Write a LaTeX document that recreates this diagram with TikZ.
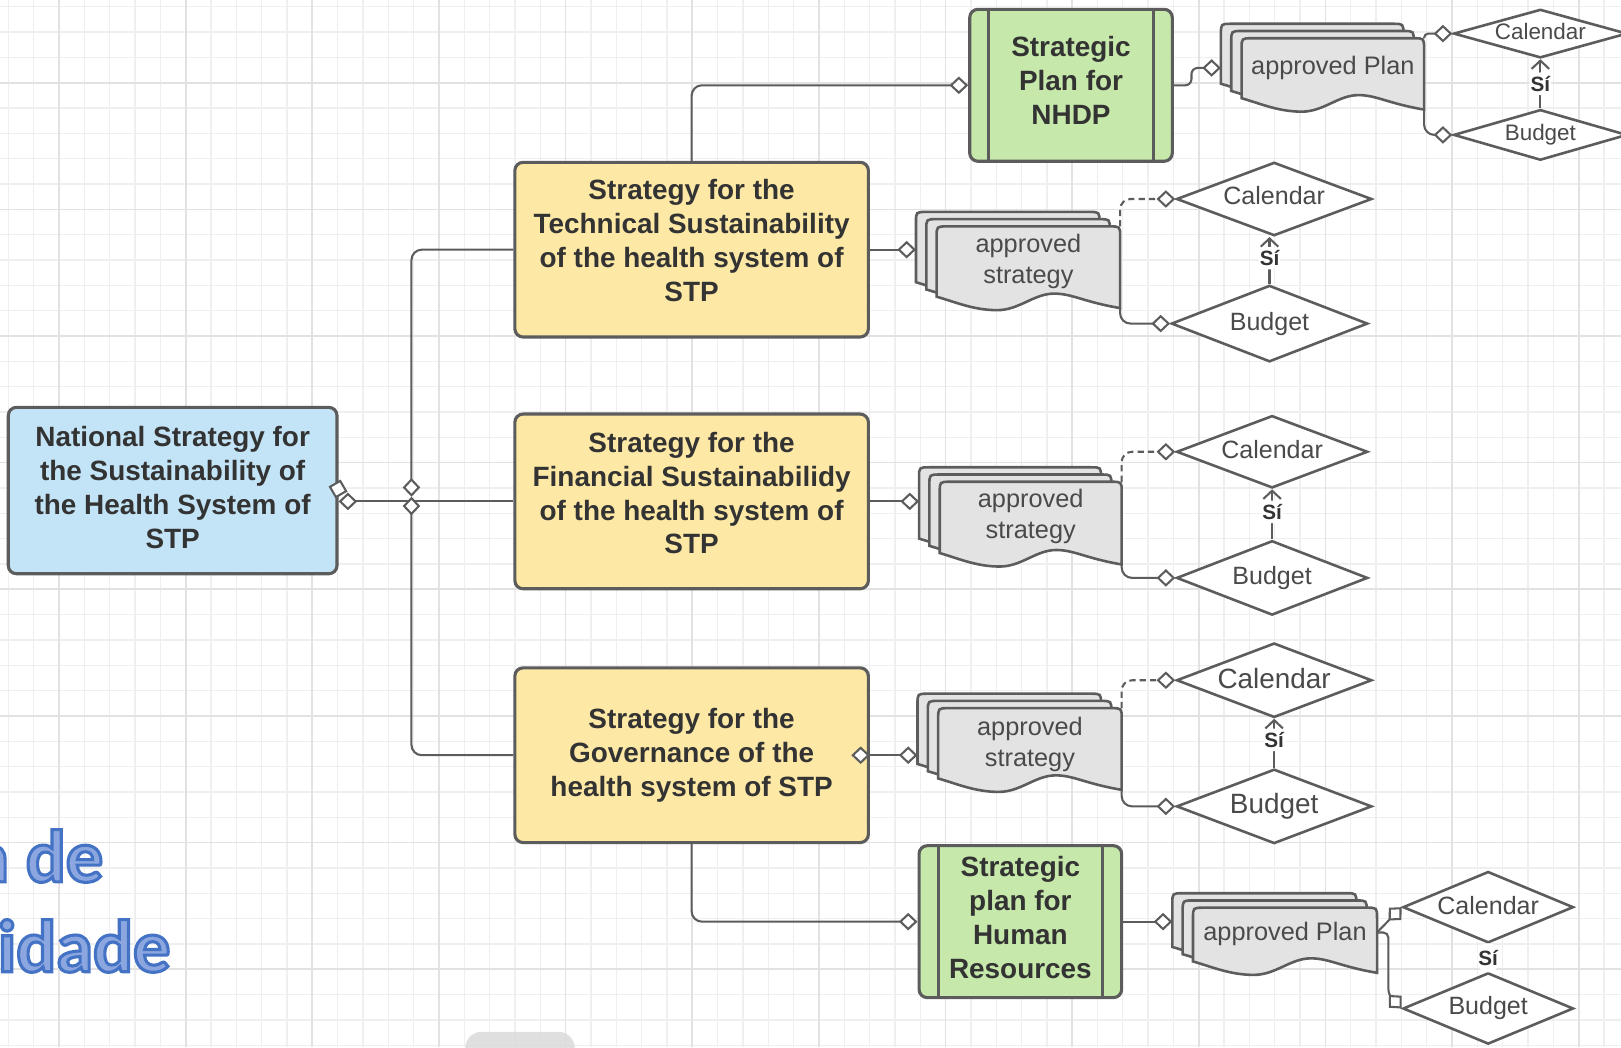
\documentclass[tikz,border=0pt]{standalone}
\usepackage{fontspec}
\setmainfont{Liberation Sans}
\newfontfamily\wafont{Carlito}
\usetikzlibrary{shapes.geometric,arrows.meta}
\definecolor{gridmin}{HTML}{EFEFEF}
\definecolor{gridmaj}{HTML}{E2E2E2}
\definecolor{edge}{HTML}{5C5C5C}
\definecolor{txt}{HTML}{333333}
\definecolor{txtl}{HTML}{4A4A4A}
\definecolor{bluefill}{HTML}{C3E4F6}
\definecolor{yelfill}{HTML}{FDE9A5}
\definecolor{grnfill}{HTML}{C6E8AA}
\definecolor{docfill}{HTML}{E3E3E3}
\definecolor{walight}{HTML}{8CA7E0}
\definecolor{blobgray}{HTML}{DADADA}
\newcommand\waoutline{\special{pdf:literal direct 0.267 0.447 0.769 RG 3 w 2 Tr}}
\newcommand\waplain{\special{pdf:literal direct 0 Tr}}
\tikzset{
  gridminor/.style={draw=gridmin, line width=1.3pt},
  gridmajor/.style={draw=gridmaj, line width=1.6pt},
  basebox/.style={draw=edge, line width=3pt, rounded corners=8pt, inner sep=0pt},
  boxtext/.style={text=txt, font=\bfseries\fontsize{27}{32.7}\selectfont, align=center, inner sep=0pt},
  bluebox/.style={basebox, fill=bluefill, minimum width=318pt, minimum height=161pt},
  yelbox/.style={basebox, fill=yelfill, minimum width=342pt, minimum height=169pt},
  grnbox/.style={basebox, fill=grnfill, minimum width=196pt, minimum height=147pt},
  choice/.style={shape=diamond, draw=edge, line width=2.5pt, fill=white, inner sep=0pt, text=txtl},
  conn/.style={draw=edge, line width=2pt, rounded corners=10pt},
  docst/.style={draw=edge, line width=2.5pt, fill=docfill},
  doctext/.style={text=txtl, font=\fontsize{24.5}{30}\selectfont, align=center, inner sep=0pt},
  silabel/.style={fill=white, text=txt, font=\bfseries\fontsize{20}{22}\selectfont, inner xsep=1pt, inner ysep=3.5pt},
  dmark/.style={shape=diamond, draw=edge, line width=2pt, fill=white, minimum width=17pt, minimum height=17pt, inner sep=0pt, aspect=1},
  wa/.style={text=walight, font=\wafont\bfseries\fontsize{72}{80}\selectfont, inner sep=0pt},
  dtip/.tip={Diamond[fill=white,length=18pt,width=17pt]},
  ctip/.tip={Straight Barb[length=8pt,width=17pt]},
}
% #1 name, #2 x, #3 y (front top-left), #4 width, #5 right height, #6 text dy, #7 text
\newcommand\docstack[7]{%
  \foreach \o in {20,10,0}{%
    \draw[docst, shift={({#2-\o},{#3-0.7*\o})}]
      (0,{#5-11}) -- (0,10) .. controls (0,0) .. (10,0) -- ({#4-10},0)
      .. controls (#4,0) .. (#4,10) -- (#4,#5)
      .. controls ({0.80*#4},{#5-6}) and ({0.74*#4},{#5-14}) .. ({0.64*#4},{#5-14})
      .. controls ({0.53*#4},{#5-14}) and ({0.45*#4},{#5+2}) .. ({0.33*#4},{#5+2})
      .. controls ({0.2*#4},{#5+2}) and ({0.1*#4},{#5-6}) .. (0,{#5-11}) -- cycle;
  }
  \node[inner sep=0pt, anchor=north west, minimum width={#4+20}, minimum height={#5+16}] (#1) at ({#2-20},{#3-14}) {};
  \coordinate (#1-tr) at ({#2+#4},#3);
  \coordinate (#1-br) at ({#2+#4},{#3+#5});
  \node[doctext] (#1-t) at ({#2+#4/2},{#3+#6}) {#7};
}
\begin{document}
\begin{tikzpicture}[x=1pt,y=-1pt]
\useasboundingbox (0,0) rectangle (1568,1013);
\clip (0,0) rectangle (1568,1013);
\fill[white] (0,0) rectangle (1568,1013);
% grid
\foreach \i in {0,...,63} {\draw[gridminor] ({8.1+24.5*\i},0) -- ++(0,1013);}
\foreach \i in {0,...,41} {\draw[gridminor] (0,{6.5+24.5*\i}) -- ++(1568,0);}
\foreach \i in {0,...,12} {\draw[gridmajor] ({57.1+122.5*\i},0) -- ++(0,1013);}
\foreach \i in {0,...,7} {\draw[gridmajor] (0,{80+122.5*\i}) -- ++(1568,0);}
% word art
\node[wa, anchor=base east] (wa1) at (100,853) {\waoutline a de\waplain};
\node[wa, anchor=base east] (wa2) at (165,940) {\waoutline idade\waplain};
% grey blob
\fill[blobgray, opacity=0.85, rounded corners=16pt] (450,998) rectangle (556,1045);

% main boxes
\node[bluebox] (bb) at (167,474.5) {};
\node[boxtext] (bbt) at ([yshift=3pt]bb.center) {National Strategy for\\the Sustainability of\\the Health System of\\STP};
\node[yelbox] (y1) at (669,241.5) {};
\node[boxtext] (y1t) at ([yshift=9pt]y1.center) {Strategy for the\\Technical Sustainability\\of the health system of\\STP};
\node[yelbox] (y2) at (669,485) {};
\node[boxtext] (y2t) at ([yshift=8pt]y2.center) {Strategy for the\\Financial Sustainabilidy\\of the health system of\\STP};
\node[yelbox] (y3) at (669,730.5) {};
\node[boxtext] (y3t) at ([yshift=0pt]y3.center) {Strategy for the\\Governance of the\\health system of STP};
\node[grnbox] (g1) at (1036,82.5) {};
\node[boxtext] (g1t) at ([yshift=5pt]g1.center) {Strategic\\Plan for\\NHDP};
\node[grnbox] (g2) at (987,891.5) {};
\node[boxtext] (g2t) at ([yshift=4pt]g2.center) {Strategic\\plan for\\Human\\Resources};
\draw[edge, line width=3pt] ([xshift=20pt]g1.north west) -- ([xshift=20pt]g1.south west);
\draw[edge, line width=3pt] ([xshift=-20pt]g1.north east) -- ([xshift=-20pt]g1.south east);
\draw[edge, line width=3pt] ([xshift=20pt]g2.north west) -- ([xshift=20pt]g2.south west);
\draw[edge, line width=3pt] ([xshift=-20pt]g2.north east) -- ([xshift=-20pt]g2.south east);

% document stacks
\docstack{st1}{906}{219}{177.5}{79}{34}{approved\\strategy}
\docstack{st2}{909}{466}{176}{80}{34}{approved\\strategy}
\docstack{st3}{907.5}{685}{177.5}{79}{35}{approved\\strategy}
\docstack{stTR}{1201}{37}{176.5}{69}{29}{approved Plan}
\docstack{stHR}{1154}{878}{178}{63}{25}{approved Plan}

% decision diamonds
\node[choice, minimum width=189pt, minimum height=71pt, aspect=2.66, text depth=7pt, font=\fontsize{24.2}{26}\selectfont] (cal1) at (1232.5,192.5) {Calendar};
\node[choice, minimum width=190pt, minimum height=74pt, aspect=2.57, font=\fontsize{24.2}{26}\selectfont] (bud1) at (1228,313) {Budget};
\node[choice, minimum width=185pt, minimum height=70pt, aspect=2.64, text depth=5pt, font=\fontsize{24.2}{26}\selectfont] (cal2) at (1230.5,437) {Calendar};
\node[choice, minimum width=185pt, minimum height=72pt, aspect=2.57, font=\fontsize{24.2}{26}\selectfont] (bud2) at (1230.5,559) {Budget};
\node[choice, minimum width=189pt, minimum height=72pt, aspect=2.63, text depth=4pt, font=\fontsize{27}{29}\selectfont] (cal3) at (1232.5,658) {Calendar};
\node[choice, minimum width=189pt, minimum height=72pt, aspect=2.63, font=\fontsize{27}{29}\selectfont] (bud3) at (1232.5,780) {Budget};
\node[choice, minimum width=168pt, minimum height=47pt, aspect=3.57, text depth=4pt, font=\fontsize{21.7}{23}\selectfont] (calTR) at (1490,32.5) {Calendar};
\node[choice, minimum width=168pt, minimum height=49pt, aspect=3.43, font=\fontsize{21.7}{23}\selectfont] (budTR) at (1490,130.5) {Budget};
\node[choice, minimum width=165pt, minimum height=69pt, aspect=2.39, text depth=3pt, font=\fontsize{24.2}{26}\selectfont] (calHR) at (1439.5,877.5) {Calendar};
\node[choice, minimum width=165pt, minimum height=69pt, aspect=2.39, font=\fontsize{24.2}{26}\selectfont] (budHR) at (1439.5,975.5) {Budget};

% connectors from the national strategy
\coordinate (hub) at (398,480.5);
\draw[conn,-dtip] (y2.west) -- (y2.west -| bb.east);
\draw[conn,-dtip] (y1.west) -| (hub);
\draw[conn,-dtip] (y3.west) -| (hub);
\node[dmark, rotate=-15] (bd) at (327,473) {};

% strategies to plans and stacks
\draw[conn,-dtip] (y1.north) |- (g1.west);
\draw[conn,-dtip] (y3.south) |- (g2.west);
\draw[conn,-dtip] (y1.east) -- (y1.east -| st1.west);
\draw[conn,-dtip] (y2.east) -- (y2.east -| st2.west);
\draw[conn,dtip-dtip, shorten <=-18pt] (y3.east) -- (y3.east -| st3.west);
\draw[conn,-dtip, rounded corners=6pt] (g1.east) -- ++(17,0) |- (stTR.west);
\draw[conn,-dtip] (g2.east) -- (g2.east -| stHR.west);

% stacks to decisions
\draw[conn,-dtip,dash pattern=on 6pt off 4pt] (st1-tr) |- (cal1.west);
\draw[conn,-dtip] (st1-br) |- (bud1.west);
\draw[conn,-dtip,dash pattern=on 6pt off 4pt] (st2-tr) |- (cal2.west);
\draw[conn,-dtip] (st2-br) |- (bud2.west);
\draw[conn,-dtip,dash pattern=on 6pt off 4pt] (st3-tr) |- (cal3.west);
\draw[conn,-dtip] (st3-br) |- (bud3.west);
\draw[conn,-dtip,rounded corners=4pt] (stTR-tr) |- (calTR.west);
\draw[conn,-dtip] (stTR-br) |- (budTR.west);
\coordinate (hrA) at (1332,902);
\draw[conn,-dtip] (hrA) -- (calHR.west);
\draw[conn,-dtip,rounded corners=5pt] (hrA) -| ++(11,60) -- (budHR.west);

% Si connectors
\draw[conn,-ctip] (bud1.north) -- node[silabel, pos=0.55] (si1) {Sí} (bud1.north |- cal1.south);
\draw[conn,-ctip] (bud2.north) -- node[silabel, pos=0.55] (si2) {Sí} (cal2.south);
\draw[conn,-ctip] (bud3.north) -- node[silabel, pos=0.57] (si3) {Sí} (cal3.south);
\draw[conn,-ctip] (budTR.north) -- node[silabel, pos=0.5] (si4) {Sí} (calTR.south);
\draw[conn] (budHR.north) -- node[silabel, minimum height=28pt] (si5) {Sí} (calHR.south);
\end{tikzpicture}
\end{document}
